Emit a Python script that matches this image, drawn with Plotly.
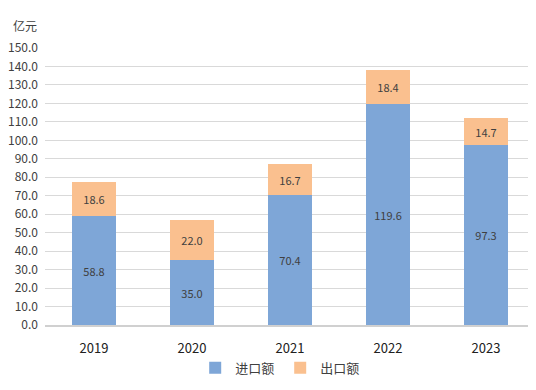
import plotly.graph_objects as go

years = ["2019", "2020", "2021", "2022", "2023"]
imports = [58.8, 35.0, 70.4, 119.6, 97.3]
exports = [18.6, 22.0, 16.7, 18.4, 14.7]
tick_vals = [0, 10, 20, 30, 40, 50, 60, 70, 80, 90, 100, 110, 120, 130, 140, 150]

font_family = "Microsoft YaHei, Noto Sans CJK SC, DejaVu Sans, sans-serif"

fig = go.Figure()
fig.add_trace(go.Bar(
    x=years, y=imports, name="进口额",
    marker=dict(color="#7EA6D7", line=dict(width=0)),
    text=[f"{v:.1f}" for v in imports], textposition="inside",
    insidetextanchor="middle",
    textfont=dict(size=11, color="#404040"),
))
fig.add_trace(go.Bar(
    x=years, y=exports, name="出口额",
    marker=dict(color="#FAC08F", line=dict(width=0)),
    text=[f"{v:.1f}" for v in exports], textposition="inside",
    insidetextanchor="middle",
    textfont=dict(size=11, color="#404040"),
))

# page body has an 8px default margin, so the figure is offset by 8px
fig.update_layout(
    barmode="stack",
    bargap=0.55,
    width=528, height=382,
    margin=dict(l=37, r=1, t=40, b=65, autoexpand=False),
    paper_bgcolor="white", plot_bgcolor="white",
    font=dict(family=font_family, color="#404040", size=12),
    uniformtext=dict(minsize=8, mode="show"),
    showlegend=True,
    legend=dict(orientation="h", x=0.48, xanchor="center", y=-0.1, yanchor="top",
                font=dict(size=13, color="#404040"), itemwidth=30,
                entrywidth=40, traceorder="normal"),
    annotations=[dict(text="亿元", x=-0.07, y=1.083, xref="paper", yref="paper",
                      xanchor="left", yanchor="middle", showarrow=False,
                      font=dict(size=12, color="#404040"))],
)

fig.update_yaxes(
    automargin=False,
    range=[0, 150], tickvals=tick_vals, ticktext=[f"{v:.1f}" for v in tick_vals],
    showgrid=True, gridcolor="#D9D9D9", gridwidth=1, zeroline=False,
    showline=False, tickfont=dict(size=12, color="#404040"), ticks="", ticklabelstandoff=6,
)
fig.update_xaxes(
    automargin=False,
    showline=True, linecolor="#D0D0D0", linewidth=2,
    tickfont=dict(size=13, color="#202020"), ticks="", ticklabelstandoff=10,
)

fig.write_html("out.html")
